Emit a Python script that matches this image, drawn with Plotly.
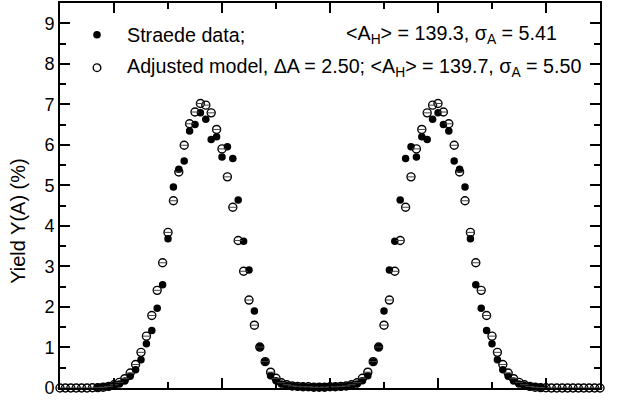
import plotly.graph_objects as go

# Mass numbers A (x categories)
mass_numbers = list(range(70, 171))

# Adjusted model yields (%), A = 70..170
model_yield = [
    0, 0, 0, 0, 0, 0, 0.005, 0.01, 0.02, 0.04,
    0.08, 0.14, 0.23, 0.37, 0.58, 0.88, 1.28, 1.79, 2.41, 3.09,
    3.84, 4.62, 5.33, 5.99, 6.52, 6.81, 7.02, 6.98, 6.79, 6.38,
    5.90, 5.21, 4.46, 3.64, 2.88, 2.17, 1.55, 1.01, 0.65, 0.39,
    0.24, 0.13, 0.08, 0.05, 0.04, 0.03, 0.03, 0.02, 0.02, 0.02,
    0.03, 0.03, 0.04, 0.05, 0.08, 0.13, 0.24, 0.39, 0.65, 1.01,
    1.55, 2.17, 2.88, 3.64, 4.46, 5.21, 5.90, 6.38, 6.79, 6.98,
    7.02, 6.81, 6.52, 5.99, 5.33, 4.62, 3.84, 3.09, 2.41, 1.79,
    1.28, 0.88, 0.58, 0.37, 0.23, 0.14, 0.08, 0.04, 0.02, 0.01,
    0.005, 0, 0, 0, 0, 0, 0, 0, 0, 0, 0,
]

# Straede data yields (%), A = 70..170 (None = no data)
straede_yield = [
    None, None, None, None, None, None, None, 0.02, 0.03, 0.04,
    0.06, 0.10, 0.17, 0.29, 0.45, 0.70, 1.09, 1.42, 1.97, 2.55,
    3.68, 4.96, 5.40, 5.60, 6.34, 6.50, 6.79, 6.63, 6.13, 6.20,
    5.70, 5.95, 5.66, 4.64, 3.62, 2.91, 1.90, 1.01, 0.65, 0.30,
    0.18, 0.10, 0.06, 0.04, 0.03, 0.03, 0.02, 0.02, 0.02, 0.02,
    0.03, 0.03, 0.03, 0.04, 0.06, 0.10, 0.18, 0.30, 0.65, 1.01,
    1.90, 2.91, 3.62, 4.64, 5.66, 5.95, 5.70, 6.20, 6.13, 6.63,
    6.79, 6.50, 6.34, 5.60, 5.40, 4.96, 3.68, 2.55, 1.97, 1.42,
    1.09, 0.70, 0.45, 0.29, 0.17, 0.10, 0.06, 0.04, 0.03, 0.02,
    None, None, None, None, None, None, None, None, None, None, None,
]

FONT = "Liberation Sans, Arial, sans-serif"
W, H = 617, 400
L, R, T, B = 60, 17, 1, 12
PW, PH = W - L - R, H - T - B


def px(x):
    return (x - L) / PW


def py(y):
    return (H - B - y) / PH


fig = go.Figure()

fig.add_trace(go.Scatter(
    x=mass_numbers, y=straede_yield, mode="markers",
    marker=dict(symbol="circle", size=7.5, color="black", line=dict(width=0)),
    cliponaxis=False, showlegend=False,
))
fig.add_trace(go.Scatter(
    x=mass_numbers, y=model_yield, mode="markers",
    marker=dict(symbol="circle-open", size=8, color="black", line=dict(width=1.4, color="black")),
    cliponaxis=False, showlegend=False,
))
fig.add_trace(go.Scatter(
    x=mass_numbers, y=model_yield, mode="markers",
    marker=dict(symbol="line-ew-open", size=6, color="#444", line=dict(width=1, color="#444")),
    cliponaxis=False, showlegend=False,
))

# legend symbols
r = 3.8
fig.add_shape(type="circle", xref="paper", yref="paper",
              x0=px(97 - r), x1=px(97 + r), y0=py(33 + r), y1=py(33 - r),
              fillcolor="black", line=dict(color="black", width=0))
fig.add_shape(type="circle", xref="paper", yref="paper",
              x0=px(97 - r), x1=px(97 + r), y0=py(66 + r), y1=py(66 - r),
              fillcolor="rgba(0,0,0,0)", line=dict(color="black", width=1.4))

tf = dict(family=FONT, size=19.7, color="black")
fig.add_annotation(xref="paper", yref="paper", x=px(125), y=py(33), xanchor="left", yanchor="middle",
                   text="Straede data;", showarrow=False, font=tf)
fig.add_annotation(xref="paper", yref="paper", x=px(559), y=py(33), xanchor="right", yanchor="middle",
                   text="&lt;A<sub>H</sub>&gt; = 139.3, σ<sub>A</sub> = 5.41", showarrow=False, font=tf)
fig.add_annotation(xref="paper", yref="paper", x=px(125), y=py(66), xanchor="left", yanchor="middle",
                   text="Adjusted model, ΔA = 2.50; &lt;A<sub>H</sub>&gt; = 139.7, σ<sub>A</sub> = 5.50",
                   showarrow=False, font=tf)
fig.add_annotation(xref="paper", yref="paper", x=px(18), y=py(220), xanchor="center", yanchor="middle",
                   text="Yield Y(A) (%)", textangle=-90, showarrow=False,
                   font=dict(family=FONT, size=20, color="black"))

axis_common = dict(showline=True, linewidth=2, linecolor="black", mirror="allticks",
                   ticks="inside", tickwidth=1.5, tickcolor="black", ticklen=10,
                   showgrid=False, zeroline=False)

fig.update_xaxes(range=[70, 170], tick0=0, dtick=20, showticklabels=False,
                 minor=dict(ticks="inside", dtick=10, tick0=0, ticklen=6, tickwidth=1.5,
                            tickcolor="black", showgrid=False),
                 **axis_common)
fig.update_yaxes(range=[0, 9.5], tick0=0, dtick=1,
                 tickfont=dict(family=FONT, size=18, color="black"),
                 minor=dict(ticks="inside", dtick=0.5, tick0=0, ticklen=6, tickwidth=1.5,
                            tickcolor="black", showgrid=False),
                 **axis_common)

fig.update_layout(width=W, height=H, margin=dict(l=L, r=R, t=T, b=B),
                  plot_bgcolor="white", paper_bgcolor="white",
                  font=dict(family=FONT, color="black"))

fig.write_html("out.html")
